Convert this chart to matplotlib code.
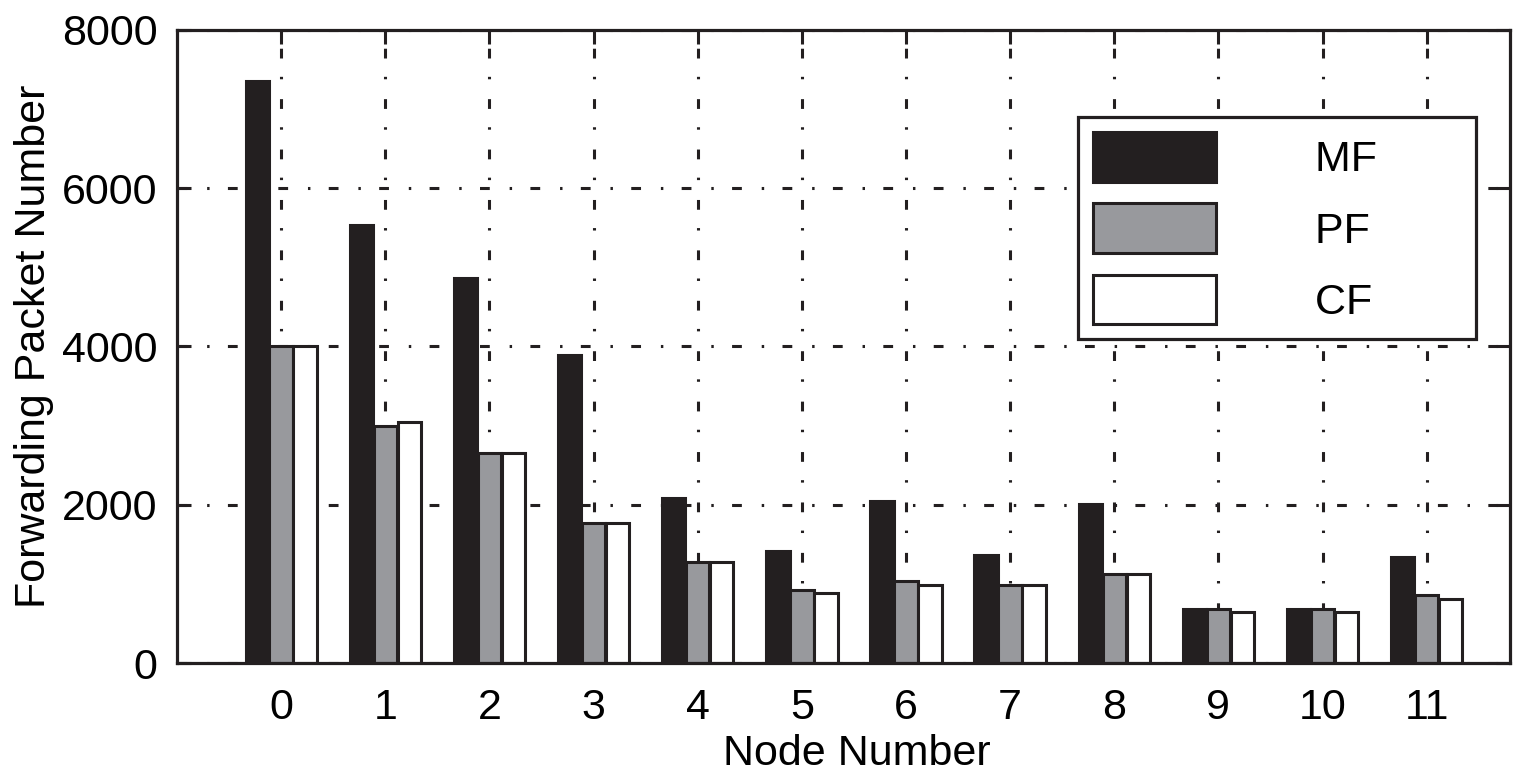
import matplotlib
matplotlib.use('Agg')
import matplotlib.pyplot as plt
import numpy as np

# values
nodes = list(range(12))
node_labels = [str(n) for n in nodes]
mf = [7350, 5540, 4860, 3890, 2090, 1410, 2050, 1370, 2010, 680, 680, 1340]
pf = [4000, 3000, 2650, 1770, 1280, 920, 1040, 990, 1120, 680, 680, 855]
cf = [4000, 3040, 2650, 1770, 1280, 880, 990, 990, 1120, 640, 640, 805]
series_names = ['MF', 'PF', 'CF']
y_ticks = [0, 2000, 4000, 6000, 8000]

fs = 31
plt.rcParams['font.family'] = ['Liberation Sans', 'DejaVu Sans']
plt.rcParams['font.size'] = fs

fig = plt.figure(figsize=(15.17, 7.79), dpi=100)
ax = fig.add_axes([0.1167, 0.1489, 0.8787, 0.8126])

dark = '#231f20'
grey = '#98999d'
lw = 2.2
x = np.array(nodes)
w = 0.225
ax.bar(x - 0.23, mf, w, color=dark, edgecolor=dark, linewidth=lw, label=series_names[0], zorder=3)
ax.bar(x, pf, w, color=grey, edgecolor=dark, linewidth=lw, label=series_names[1], zorder=3)
ax.bar(x + 0.23, cf, w, color='white', edgecolor=dark, linewidth=lw, label=series_names[2], zorder=3)

ax.set_xlim(-1, 11.8)
ax.set_ylim(0, 8000)
ax.set_xticks(nodes)
ax.set_xticklabels(node_labels)
ax.set_yticks(y_ticks)

dashdot = (0, (3.2, 6.5, 0.8, 6.0))
ax.grid(True, color=dark, linestyle=dashdot, linewidth=2.2, zorder=1)
ax.set_axisbelow(True)

for s in ax.spines.values():
    s.set_linewidth(2.3)
    s.set_color(dark)
    s.set_zorder(4)

ax.tick_params(direction='in', length=10, width=2.2, color=dark,
               top=True, right=True, labelsize=fs, pad=14)
ax.tick_params(axis='x', pad=18)

ax.set_ylabel('Forwarding Packet Number', fontsize=fs)
ax.yaxis.set_label_coords(-0.092, 0.5)
ax.set_xlabel('Node Number', fontsize=fs)
ax.xaxis.set_label_coords(0.51, -0.112)

pad = ' ' * 7
handles, labels = ax.get_legend_handles_labels()
leg = fig.legend(handles, [l + pad for l in labels],
                 loc='upper left', bbox_to_anchor=(1078 / 1517, 1 - 117 / 779),
                 fontsize=fs, handlelength=2.85, handleheight=1.4,
                 handletextpad=2.3, labelspacing=0.5, borderpad=0.35,
                 borderaxespad=0, fancybox=False, framealpha=1)
leg.get_frame().set_edgecolor(dark)
leg.get_frame().set_linewidth(2.3)

fig.savefig('out.png', dpi=100)
